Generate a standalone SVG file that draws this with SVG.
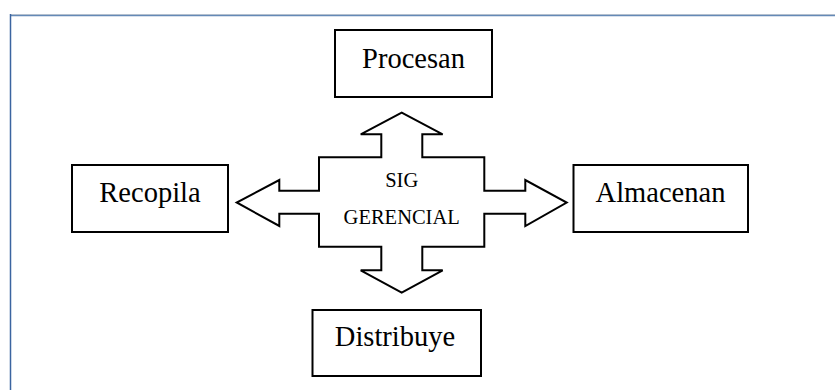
<svg xmlns="http://www.w3.org/2000/svg" width="835" height="390" viewBox="0 0 835 390">
<style>
.box{fill:#fff;stroke:#000;stroke-width:2}
.lbl{font-family:"Liberation Serif","Times New Roman",serif;font-size:28.5px;fill:#000;text-anchor:middle}
.mid{font-family:"Liberation Serif","Times New Roman",serif;font-size:20.5px;fill:#000;text-anchor:middle}
.cross{fill:#fff;stroke:#000;stroke-width:2;stroke-linejoin:miter}
</style>
<rect width="835" height="390" fill="#fff"/>
<g id="frame">
<line x1="10" y1="14.5" x2="835" y2="14.5" stroke="#b3bfce" stroke-width="1.2"/>
<line x1="10" y1="15.6" x2="835" y2="15.6" stroke="#6489b6" stroke-width="1.2"/>
<line x1="10.5" y1="14" x2="10.5" y2="390" stroke="#3b64a0" stroke-width="1.5"/>
</g>
<g id="connectors">
<path class="cross" d="M401.7,112.7 L442.7,134.3 L422.3,134.3 L422.3,157.3 L484.3,157.3 L484.3,190.7 L525.3,190.7 L525.3,180 L566.7,202.5 L525.3,226 L525.3,213.7 L484.3,213.7 L484.3,246.7 L422.3,246.7 L422.3,270.3 L442.7,270.3 L401.7,292.7 L360.7,270.3 L381.3,270.3 L381.3,246.7 L319,246.7 L319,213.7 L279.3,213.7 L279.3,226 L236.7,202.5 L279.3,180 L279.3,190.7 L319,190.7 L319,157.3 L381.3,157.3 L381.3,134.3 L360.7,134.3 Z"/>
</g>
<g id="center">
<text class="mid" x="401.7" y="187">SIG</text>
<text class="mid" x="401.7" y="224.3">GERENCIAL</text>
</g>
<g id="procesan">
<rect class="box" x="335" y="30" width="157" height="67"/>
<text class="lbl" x="413.5" y="68">Procesan</text>
</g>
<g id="recopila">
<rect class="box" x="72" y="165" width="156" height="67"/>
<text class="lbl" x="150" y="202.3">Recopila</text>
</g>
<g id="almacenan">
<rect class="box" x="573.5" y="165" width="174.5" height="67"/>
<text class="lbl" x="660.5" y="202.3">Almacenan</text>
</g>
<g id="distribuye">
<rect class="box" x="312.5" y="310" width="168.5" height="66"/>
<text class="lbl" x="395" y="345.7">Distribuye</text>
</g>
</svg>
